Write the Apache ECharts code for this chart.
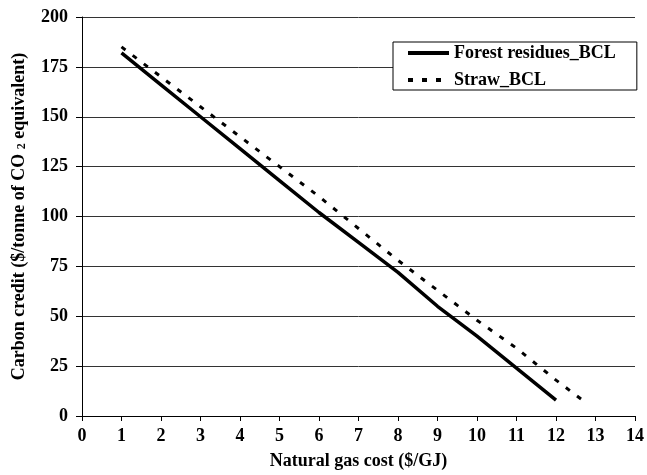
<!DOCTYPE html>
<html>
<head>
<meta charset="utf-8">
<script src="https://cdn.jsdelivr.net/npm/echarts@6/dist/echarts.min.js"></script>
<style>
  html, body { margin: 0; padding: 0; background: #fff; }
  #chart { width: 647px; height: 475px; }
</style>
</head>
<body>
<div id="chart"></div>
<script>
var forestX = [1, 2, 3, 4, 5, 6, 7, 8, 9, 10, 11, 12];
var forestY = [182, 166, 150, 134, 118, 102, 87, 72, 55, 40, 24, 8];
var strawX = [1, 2, 3, 4, 5, 6, 7, 8, 9, 10, 11, 12, 12.8];
var strawY = [185, 170, 155, 140, 125, 110, 94, 78, 63, 48, 34, 18, 6];

var font = 'Liberation Serif, Times New Roman, serif';

var pairs = function(xs, ys){
    var out = [];
    for (var i = 0; i < xs.length; i++) out.push([xs[i], ys[i]]);
    return out;
};

var myChart = echarts.init(document.getElementById('chart'));

var option = {
    animation: false,
    grid: { left: 82, right: 7, top: 17, bottom: 56 },
    legend: {
        orient: 'vertical',
        left: 393,
        top: 42,
        padding: [2, 21, 1, 13],
        itemWidth: 41,
        itemHeight: 18,
        itemGap: 9,
        backgroundColor: '#fff',
        borderColor: '#000',
        borderWidth: 1,
        itemStyle: { opacity: 0 },
        lineStyle: { width: 4 },
        textStyle: { fontFamily: font, fontWeight: 'bold', fontSize: 18, color: '#000' },
        data: ['Forest residues_BCL', 'Straw_BCL']
    },
    xAxis: {
        type: 'value',
        min: 0, max: 14, interval: 1,
        name: 'Natural gas cost ($/GJ)',
        nameLocation: 'middle',
        nameGap: 36,
        nameTextStyle: { fontFamily: font, fontWeight: 'bold', fontSize: 18, color: '#000' },
        axisLine: { lineStyle: { color: '#000', width: 1 } },
        axisTick: { length: 5, lineStyle: { color: '#000' } },
        axisLabel: { fontFamily: font, fontWeight: 'bold', fontSize: 18, color: '#000', margin: 11 },
        splitLine: { show: false }
    },
    yAxis: {
        type: 'value',
        min: 0, max: 200, interval: 25,
        name: 'Carbon credit ($/tonne of CO {sub|2} equivalent)',
        nameLocation: 'middle',
        nameGap: 54,
        nameTextStyle: {
            fontFamily: font, fontWeight: 'bold', fontSize: 18, color: '#000',
            rich: {
                sub: { fontFamily: font, fontWeight: 'bold', fontSize: 12, color: '#000', padding: [6, 0, 0, 0] }
            }
        },
        axisLine: { show: true, lineStyle: { color: '#000', width: 1 } },
        axisTick: { show: true, length: 6, lineStyle: { color: '#000' } },
        axisLabel: { fontFamily: font, fontWeight: 'bold', fontSize: 18, color: '#000', margin: 14 },
        splitLine: { show: true, lineStyle: { color: '#333', width: 1 } }
    },
    series: [
        {
            name: 'Forest residues_BCL',
            type: 'line',
            data: pairs(forestX, forestY),
            symbol: 'none',
            lineStyle: { color: '#000', width: 3.5 },
            itemStyle: { color: '#000' }
        },
        {
            name: 'Straw_BCL',
            type: 'line',
            data: pairs(strawX, strawY),
            symbol: 'none',
            lineStyle: { color: '#000', width: 3, type: [5, 9] },
            itemStyle: { color: '#000' }
        }
    ]
};

myChart.setOption(option);
</script>
</body>
</html>
